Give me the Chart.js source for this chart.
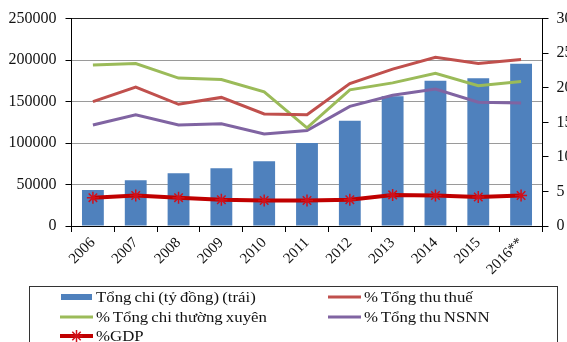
<!DOCTYPE html>
<html>
<head>
<meta charset="utf-8">
<script src="https://cdn.jsdelivr.net/npm/chart.js@4/dist/chart.umd.min.js"></script>
<style>
  html, body { margin: 0; padding: 0; background: #fff; }
  #wrap { position: relative; width: 567px; height: 342px; overflow: hidden; }
  #chart { position: absolute; left: 0; top: 0; }
  #legend {
    position: absolute; left: 29px; top: 286px; width: 529px; height: 80px;
    border: 1px solid #333; box-sizing: border-box;
    font-family: "Liberation Serif", "Times New Roman", serif; font-size: 15px; color: #111;
    word-spacing: -1px;
  }
  .item { position: absolute; display: flex; align-items: center; white-space: nowrap; height: 18px; }
  .item svg { margin-right: 3px; }
  .item span { display: inline-block; transform: scaleX(1.12); transform-origin: left center; }
</style>
</head>
<body>
<div id="wrap">
  <canvas id="chart" width="567" height="290"></canvas>
  <div id="legend"></div>
</div>
<script>
// Years (2016 is an estimate)
const years = ['2006', '2007', '2008', '2009', '2010', '2011', '2012', '2013', '2014', '2015', '2016**'];
// Total spending, billion VND (left axis)
const tongChi = [43500, 55000, 63500, 69500, 78000, 100000, 127000, 156500, 175000, 178000, 195500];
// Ratios in percent (right axis)
const pctThuThue = [18.0, 20.1, 17.6, 18.6, 16.2, 16.1, 20.6, 22.7, 24.4, 23.5, 24.1];
const pctChiThuongXuyen = [23.3, 23.5, 21.4, 21.2, 19.4, 14.2, 19.7, 20.7, 22.1, 20.3, 20.9];
const pctThuNSNN = [14.6, 16.1, 14.6, 14.8, 13.3, 13.8, 17.3, 18.9, 19.8, 17.9, 17.8];
const pctGDP = [4.1, 4.4, 4.1, 3.8, 3.7, 3.7, 3.8, 4.5, 4.4, 4.2, 4.4];
// Axis ticks
const leftTicks = [0, 50000, 100000, 150000, 200000, 250000];
const rightTicks = [0, 5, 10, 15, 20, 25, 30];

const FONT = '"Liberation Serif", "Times New Roman", serif';
const COLORS = {
  bar: '#4f81bd', thue: '#c0504d', chiTX: '#9bbb59', nsnn: '#8064a2', gdp: '#c00000'
};

const series = [
  { label: 'Tổng chi (tỷ đồng) (trái)', type: 'bar', data: tongChi, color: COLORS.bar, axis: 'y', col: 0, row: 0 },
  { label: '% Tổng thu thuế', type: 'line', data: pctThuThue, color: COLORS.thue, axis: 'y1', col: 1, row: 0 },
  { label: '% Tổng chi thường xuyên', type: 'line', data: pctChiThuongXuyen, color: COLORS.chiTX, axis: 'y1', col: 0, row: 1 },
  { label: '% Tổng thu NSNN', type: 'line', data: pctThuNSNN, color: COLORS.nsnn, axis: 'y1', col: 1, row: 1 },
  { label: '%GDP', type: 'line', data: pctGDP, color: COLORS.gdp, axis: 'y1', col: 0, row: 2, star: true }
];

const datasets = series.map(s => {
  if (s.type === 'bar') {
    return {
      type: 'bar', label: s.label, data: s.data, yAxisID: s.axis,
      backgroundColor: s.color, borderWidth: 0,
      categoryPercentage: 1, barPercentage: 0.51, order: 10
    };
  }
  return {
    type: 'line', label: s.label, data: s.data, yAxisID: s.axis,
    borderColor: s.color, backgroundColor: s.color,
    borderWidth: s.star ? 4 : 3, tension: 0, fill: false,
    pointStyle: s.star ? 'star' : 'circle',
    pointRadius: s.star ? 6 : 0, pointBorderWidth: 1.5,
    pointBorderColor: '#d0101a',
    order: s.star ? 2 : 1
  };
});

new Chart(document.getElementById('chart'), {
  data: { labels: years, datasets },
  options: {
    responsive: false, animation: false,
    layout: { padding: { top: 16, left: 0, right: 0, bottom: 0 } },
    plugins: { legend: { display: false }, tooltip: { enabled: false } },
    scales: {
      x: {
        offset: true,
        grid: { display: true, drawOnChartArea: false, drawTicks: true, tickLength: 6, tickColor: '#000', offset: true },
        border: { display: true, color: '#000', width: 1 },
        ticks: { color: '#111', font: { family: FONT, size: 15 }, maxRotation: 45, minRotation: 45, padding: 2 },
        afterFit: s => { s.height = 64; }
      },
      y: {
        position: 'left', min: 0, max: 250000,
        afterBuildTicks: s => { s.ticks = leftTicks.map(v => ({ value: v })); },
        grid: {
          color: c => (c.tick && c.tick.value === 250000) ? '#222' : '#9a9a9a',
          drawTicks: true, tickLength: 6, tickColor: '#000'
        },
        border: { display: true, color: '#000', width: 1 },
        ticks: { color: '#111', font: { family: FONT, size: 16 }, padding: 9, callback: v => String(v) },
        afterFit: s => { s.width = 71.5; }
      },
      y1: {
        position: 'right', min: 0, max: 30,
        afterBuildTicks: s => { s.ticks = rightTicks.map(v => ({ value: v })); },
        grid: { drawOnChartArea: false, drawTicks: true, tickLength: 6, tickColor: '#000' },
        border: { display: true, color: '#000', width: 1 },
        ticks: { color: '#111', font: { family: FONT, size: 16 }, padding: 8, callback: v => String(v) },
        afterFit: s => { s.width = 24.5; }
      }
    }
  }
});

// Legend in two columns below the plot
const legend = document.getElementById('legend');
const colX = [30, 298];
const rowY = [1, 21, 40];
series.forEach(s => {
  const el = document.createElement('div');
  el.className = 'item';
  el.style.left = colX[s.col] + 'px';
  el.style.top = rowY[s.row] + 'px';
  let svg;
  if (s.type === 'bar') {
    svg = `<svg width="33" height="10"><rect x="1" y="2" width="31" height="6" fill="${s.color}"/></svg>`;
  } else if (s.star) {
    svg = `<svg width="33" height="14"><line x1="0" y1="7" x2="33" y2="7" stroke="${s.color}" stroke-width="4"/>` +
      `<g stroke="#d0101a" stroke-width="1.5"><line x1="16.5" y1="1" x2="16.5" y2="13"/>` +
      `<line x1="10.5" y1="7" x2="22.5" y2="7"/><line x1="12.3" y1="2.8" x2="20.7" y2="11.2"/>` +
      `<line x1="20.7" y1="2.8" x2="12.3" y2="11.2"/></g></svg>`;
  } else {
    svg = `<svg width="33" height="10"><line x1="0" y1="5" x2="33" y2="5" stroke="${s.color}" stroke-width="3"/></svg>`;
  }
  el.innerHTML = svg + '<span></span>';
  el.querySelector('span').textContent = s.label;
  legend.appendChild(el);
});
</script>
</body>
</html>
